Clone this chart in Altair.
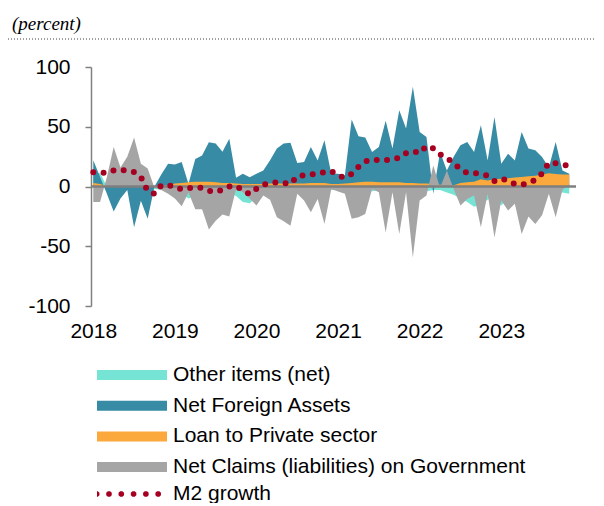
import math
import altair as alt
import pandas as pd

# ---------------- data ----------------
months = list(range(71))  # Jan 2018 ... Nov 2023
years = [2018, 2019, 2020, 2021, 2022, 2023]
y_ticks = [-100, -50, 0, 50, 100]

other = [12, 11, 0, -1, -1, -1, -1, -1, -1, -2,
         -3, -3, -4, -6, -10, -8, -6, -5, -4, -4,
         -5, -8, -13, -14, -9, -6, -4, -3, -3, -3,
         -4, -3, -2, -2, -2, -3, -3, -2, -2, -2,
         -3, -4, -3, -2, -2, -2, -2, -2, -3, -4,
         -3, -3, -5, -7, -10, -13, -17, -15, -11, -9,
         -16, -10, -8, -6, -5, -5, -5, -5, -5, -5,
         -6]
nfa = [22, 8, -6, -21, -10, -3, -34, -12, -27, 0,
       10, 19, 18.5, 20.4, 2.2, 23, 26, 37, 36, 29,
       40, 7.3, 10.6, 7.8, 10.6, 13.4, 22, 31.7, 35.9, 36.7,
       19.6, 20.4, 33, 21.8, 38.7, 10.6, 10.6, 9.2, 56, 42,
       41, 28.8, 33, 55, 31.7, 63.9, 48.5, 83.4, 45.6, 41.4,
       -6, 28.8, 13.4, 25, 34.5, 37.2, 28.8, 51.3, 21.8, 58.2,
       19, 27.5, 21.8, 45.6, 31.7, 30.3, 24.6, 16, 37.2, 13.4,
       10.6]
loan = [3, 2, 0.5, 0.3, 0.3, 0.3, 0.3, 0.3, 0.3, 0.3,
        0.5, 1, 2.5, 3, 3.5, 4, 4, 4, 3.5, 3,
        3, 2.5, 2, 2, 2, 2, 2.5, 2.5, 2.5, 2.5,
        2.5, 2.5, 3, 3, 3, 2, 2, 2.5, 3, 3.5,
        4, 4, 3.5, 3.5, 3.5, 3.5, 3, 3, 2.5, 2.5,
        2, 1.5, 1.5, 1, 3, 3.5, 4, 6, 5, 6,
        6.5, 7, 7.5, 8, 8.5, 9, 10, 11, 10.5, 10,
        10]
gov = [-13, -13, 8, 33, 16, 25, 41, 19, 15, -1,
       -3, -6, -10, -16.5, -5, -19, -19, -36, -28.6, -23.5,
       -25, -2, -4.8, -10, -16, -7.6, -11, -25.8, -29, -32.8,
       -6, -11.8, -21.6, -10.4, -31.4, -2, -4.2, -6, -27, -25.8,
       -23, -2, -4.8, -38.4, -4.8, -39.7, -4.8, -59.4, -11.8, -7.6,
       17.6, -1, 13.4, -2, -16, -10.4, -7.6, -34, -6, -42.6,
       -11.8, -20, -14.5, -39.7, -25, -31.4, -24, -6, -25.8, -3,
       2]
m2 = [12, 11.7, 11.5, 13.5, 14, 13, 12, 8, -4, -6,
      1, 1, 0, -2.5, -1.5, -0.8, -1.2, -3.5, -4.5, -2.8,
      0, 0.5, -3.4, -6.5, -2, 1.5, 2.8, 3.5, 3, 2,
      8.5, 9.5, 10, 11, 12, 13, 9, 7.5, 10.6, 16.5,
      21, 22.5, 22, 22, 23, 24, 28, 29.5, 28, 34,
      32, 27, 23.5, 20, 14, 11.5, 11.2, 10.5, 9, 4.5,
      6.5, 5, 2, 1.5, 3, 5.5, 11, 20, 19.5, 18.5,
      17]

names = ["Other items (net)", "Net Foreign Assets", "Loan to Private sector",
         "Net Claims (liabilities) on Government"]
colors = ["#76E4D5", "#378BA4", "#FBA93D", "#A5A5A5"]
m2_name = "M2 growth"
m2_color = "#A50021"

FONT = "Liberation Sans"
W, H = 485, 239

t = [2018 + i / 12 for i in months]

xs = alt.Scale(domain=[2017.972, 2023.916], nice=False, zero=False)
ys = alt.Scale(domain=[-100, 100], nice=False)

x_enc = alt.X(
    "t:Q", scale=xs,
    axis=alt.Axis(values=years, labelExpr="'' + datum.value", domain=False, ticks=False,
                  grid=False, labelFontSize=21, labelFont=FONT, labelColor="black",
                  labelPadding=14, title=None, labelFlush=False, labelOverlap=False),
)
y_enc = alt.Y(
    "v:Q", scale=ys, stack=None,
    axis=alt.Axis(values=y_ticks, labelExpr="'' + datum.value", domainColor="#808080",
                  domainWidth=1.5, tickColor="#808080", tickWidth=1.5, tickSize=6,
                  labelFontSize=21, labelFont=FONT, labelColor="black", labelPadding=15,
                  grid=False, title=None),
)

# legend symbol shapes (unit box -1..1, scaled by sqrt(size)/2 = 35 px)
rect_path = "M-1,-0.143L1,-0.143L1,0.143L-1,0.143Z"


def octagon(cx, r):
    pts = []
    for k in range(8):
        a = math.radians(22.5 + 45 * k)
        pts.append(f"{cx + r * math.cos(a):.4f},{r * math.sin(a):.4f}")
    return "M" + "L".join(pts) + "Z"


dots_path = "".join(octagon(-1.009 + k * 0.3514, 0.0857) for k in range(6))

fill_scale = alt.Scale(domain=names, range=colors)
fill_legend = alt.Legend(
    title=None, orient="none", legendX=6, legendY=297.5, symbolType=rect_path,
    symbolSize=4900, symbolStrokeWidth=0, symbolOpacity=1, labelFontSize=21, labelFont=FONT,
    labelColor="black", labelOffset=6, rowPadding=8.7, padding=0, labelLimit=0,
    clipHeight=21,
)
m2_legend = alt.Legend(
    title=None, orient="none", legendX=6, legendY=416.5, symbolType=dots_path,
    symbolSize=4900, symbolStrokeWidth=0, symbolFillColor=m2_color, symbolOpacity=1,
    labelFontSize=21, labelFont=FONT, labelColor="black", labelOffset=6, padding=0,
    labelLimit=0, clipHeight=21,
)

layers = []
for name, vals in zip(names, [other, nfa, loan, gov]):
    df = pd.DataFrame({"t": t, "v": vals, "component": name})
    layers.append(
        alt.Chart(df).mark_area(interpolate="linear", opacity=1).encode(
            x=x_enc, y=y_enc,
            fill=alt.Fill("component:N", scale=fill_scale, legend=fill_legend),
        )
    )

zero = alt.Chart(pd.DataFrame({"v": [0]})).mark_rule(color="#7F7F7F", strokeWidth=2.5).encode(
    y=alt.Y("v:Q", scale=ys)
)

df_m2 = pd.DataFrame({"t": t, "v": m2, "series": m2_name})
m2_line = alt.Chart(df_m2).mark_line(
    strokeWidth=6, strokeDash=[0, 10.3], strokeCap="round", interpolate="linear"
).encode(
    x=x_enc, y=y_enc,
    stroke=alt.Stroke("series:N", scale=alt.Scale(domain=[m2_name], range=[m2_color]),
                      legend=m2_legend),
)

one = pd.DataFrame({"a": [0]})
unit_text = alt.Chart(one).mark_text(
    text="(percent)", font="Liberation Serif", fontStyle="italic", fontSize=19,
    align="left", baseline="alphabetic", color="black",
).encode(x=alt.value(-79), y=alt.value(-37.5))

dotted = alt.Chart(one).mark_rule(color="#404040", strokeWidth=1, strokeDash=[1, 2]).encode(
    x=alt.value(-83), x2=alt.value(W + 20), y=alt.value(-28)
)

chart = alt.layer(*layers, zero, m2_line, unit_text, dotted).properties(
    width=W, height=H,
    autosize=alt.AutoSizeParams(type="none"),
    padding={"left": 83, "top": 59, "right": 20, "bottom": 197},
).configure_view(stroke=None)

chart.save("out.html", embed_options={"renderer": "svg", "actions": False})
